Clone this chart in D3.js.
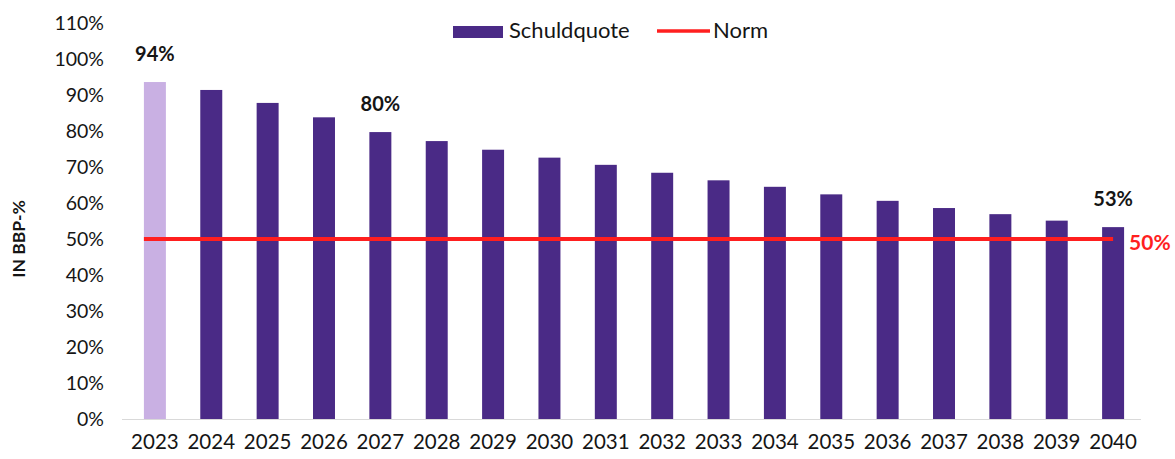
<!DOCTYPE html>
<html>
<head>
<meta charset="utf-8">
<script src="https://cdn.jsdelivr.net/npm/d3@7/dist/d3.min.js"></script>
<style>
  body { margin: 0; background: #fff; }
  text { font-family: Lato, "Open Sans", sans-serif; fill: #151515; }
</style>
</head>
<body>
<script>
    const years = d3.range(2023, 2041).map(String),
        schuldquote = [93.6, 91.4, 87.8, 83.8, 79.7, 77.2, 74.8, 72.6, 70.6, 68.4, 66.3, 64.5, 62.4, 60.6, 58.6, 56.9, 55.1, 53.3],
        norm = 50,
        yTicks = d3.range(0, 111, 10),
        callouts = [{year: '2023', text: '94%'}, {year: '2027', text: '80%'}, {year: '2040', text: '53%'}];

    const width = 1175, height = 459,
        margin = {top: 23, right: 34, bottom: 40, left: 127};

    const svg = d3.select('body').append('svg')
        .attr('width', width)
        .attr('height', height);

    const x = d3.scaleBand()
        .domain(years)
        .range([margin.left, width - margin.right])
        .paddingInner(0.61)
        .paddingOuter(0.3);

    const y = d3.scaleLinear()
        .domain([0, 110])
        .range([height - margin.bottom, margin.top]);

    // y axis labels, no axis line
    svg.append('g')
        .attr('transform', `translate(104,0)`)
        .call(d3.axisLeft(y).tickValues(yTicks).tickSize(0).tickPadding(0).tickFormat(d => d + '%'))
        .call(g => g.select('.domain').remove())
        .selectAll('text')
        .attr('font-size', 19.5)
        .attr('dy', '0.35em');

    // baseline
    svg.append('line')
        .attr('x1', 122).attr('x2', width - margin.right)
        .attr('y1', y(0) + 0.5).attr('y2', y(0) + 0.5)
        .attr('stroke', '#d9d9d9');

    // x axis labels
    svg.append('g')
        .attr('transform', `translate(0,${y(0) + 12})`)
        .call(d3.axisBottom(x).tickSize(0))
        .call(g => g.select('.domain').remove())
        .selectAll('text')
        .attr('font-size', 20.5);

    svg.append('text')
        .attr('transform', `translate(25,${y(50)}) rotate(-90)`)
        .attr('text-anchor', 'middle')
        .attr('font-size', 17.5)
        .attr('font-weight', 'bold')
        .text('IN BBP-%');

    svg.selectAll('rect.bar')
        .data(years)
        .join('rect')
        .attr('class', 'bar')
        .attr('x', d => x(d))
        .attr('width', x.bandwidth())
        .attr('y', (d, i) => y(schuldquote[i]))
        .attr('height', (d, i) => y(0) - y(schuldquote[i]))
        .attr('fill', (d, i) => i === 0 ? '#c9b0e3' : '#4a2a86');

    // norm line
    const lastX = x(years[years.length - 1]) + x.bandwidth() / 2;
    svg.append('line')
        .attr('x1', x(years[0])).attr('x2', lastX)
        .attr('y1', y(norm)).attr('y2', y(norm))
        .attr('stroke', '#ff1f1f')
        .attr('stroke-width', 4);

    svg.append('text')
        .attr('x', lastX + 16)
        .attr('y', y(norm) + 11)
        .attr('font-size', 21)
        .attr('font-weight', 'bold')
        .style('fill', '#ff1f1f')
        .text(norm + '%');

    svg.selectAll('text.callout')
        .data(callouts)
        .join('text')
        .attr('class', 'callout')
        .attr('x', d => x(d.year) + x.bandwidth() / 2)
        .attr('y', d => y(schuldquote[years.indexOf(d.year)]) - 21)
        .attr('text-anchor', 'middle')
        .attr('font-size', 20)
        .attr('font-weight', 'bold')
        .text(d => d.text);

    // legend
    const legend = svg.append('g');
    legend.append('rect')
        .attr('x', 453).attr('y', 26)
        .attr('width', 50).attr('height', 12)
        .attr('fill', '#4a2a86');
    legend.append('text')
        .attr('x', 509).attr('y', 38)
        .attr('font-size', 22)
        .text('Schuldquote');
    legend.append('line')
        .attr('x1', 657).attr('x2', 710)
        .attr('y1', 31).attr('y2', 31)
        .attr('stroke', '#ff1f1f')
        .attr('stroke-width', 3.5);
    legend.append('text')
        .attr('x', 713).attr('y', 38)
        .attr('font-size', 22)
        .text('Norm');
</script>
</body>
</html>
